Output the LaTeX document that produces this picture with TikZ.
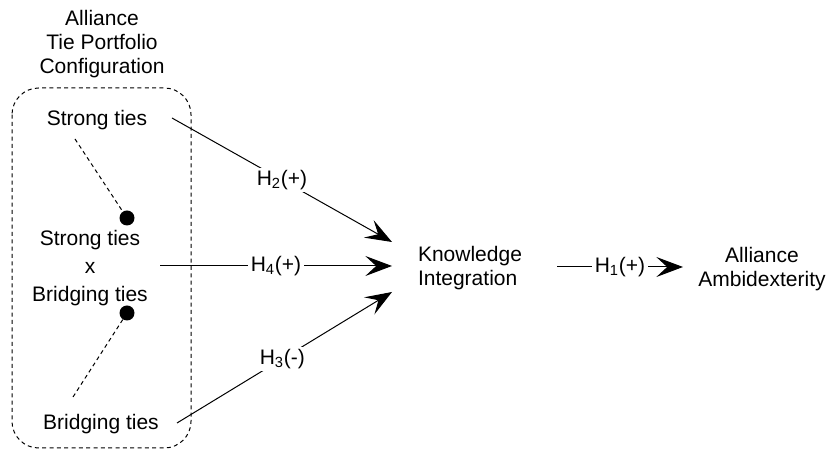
\documentclass[tikz,border=0pt]{standalone}
\usepackage{fontspec}
\setmainfont{Liberation Sans}
\usetikzlibrary{arrows.meta}

\tikzset{
  txt/.style={font=\fontsize{12.6}{14.4}\selectfont, align=center, inner sep=1pt},
  lbl/.style={font=\fontsize{12.6}{14.4}\selectfont, fill=white, inner sep=1.5pt},
  pin/.style={circle, fill=black, minimum size=9pt, inner sep=0pt},
  hyp/.style={line width=0.6pt, -{Stealth[length=16pt, width=12pt, inset=6.5pt]}},
  link/.style={line width=0.6pt, dash pattern=on 2.4pt off 2pt}
}

\begin{document}
\begin{tikzpicture}[x=0.6pt, y=-0.6pt]

    \useasboundingbox (0,0) rectangle (829,450);

    % Title and dashed frame for the tie portfolio
    \node[txt] (title) at (102,44) {Alliance\\Tie Portfolio\\Configuration};
    \draw[link, rounded corners=16pt] (12,88) rectangle (191,448);

    % Tie types inside the frame
    \node[txt] (strong) at (97,120) {Strong ties};
    \node[txt, font=\fontsize{12.6}{17}\selectfont] (inter) at (90,268) {Strong ties\\x\\Bridging ties};
    \node[txt] (bridge) at (101,424) {Bridging ties};

    % Pins joining the tie types to the interaction
    \node[pin] (pinA) at (127,218) {};
    \node[pin] (pinB) at (127,313) {};
    \coordinate (ancA) at (75,139);
    \coordinate (ancB) at (73,397);
    \draw[link] (ancA) -- (pinA);
    \draw[link] (pinB) -- (ancB);

    % Outcomes
    \node[txt, align=left] (ki) at (470,268) {Knowledge\\Integration};
    \node[txt] (amb) at (762,269) {Alliance\\Ambidexterity};

    % End points of the hypothesis arrows
    \coordinate (s2) at (172,118);
    \coordinate (t2) at (392,242);
    \coordinate (s4) at (160,266);
    \coordinate (t4) at (392,266);
    \coordinate (s3) at (177,423);
    \coordinate (t3) at (392,292);
    \coordinate (s1) at (557,267);
    \coordinate (t1) at (683,267);

    % Hypotheses
    \draw[hyp] (s2) -- node[lbl, pos=0.5] {H\textsubscript{2}(+)} (t2);
    \draw[hyp] (s4) -- node[lbl, pos=0.5] {H\textsubscript{4}(+)} (t4);
    \draw[hyp] (s3) -- node[lbl, pos=0.49] {H\textsubscript{3}(-)} (t3);
    \draw[hyp] (s1) -- node[lbl, pos=0.5] {H\textsubscript{1}(+)} (t1);

\end{tikzpicture}
\end{document}
